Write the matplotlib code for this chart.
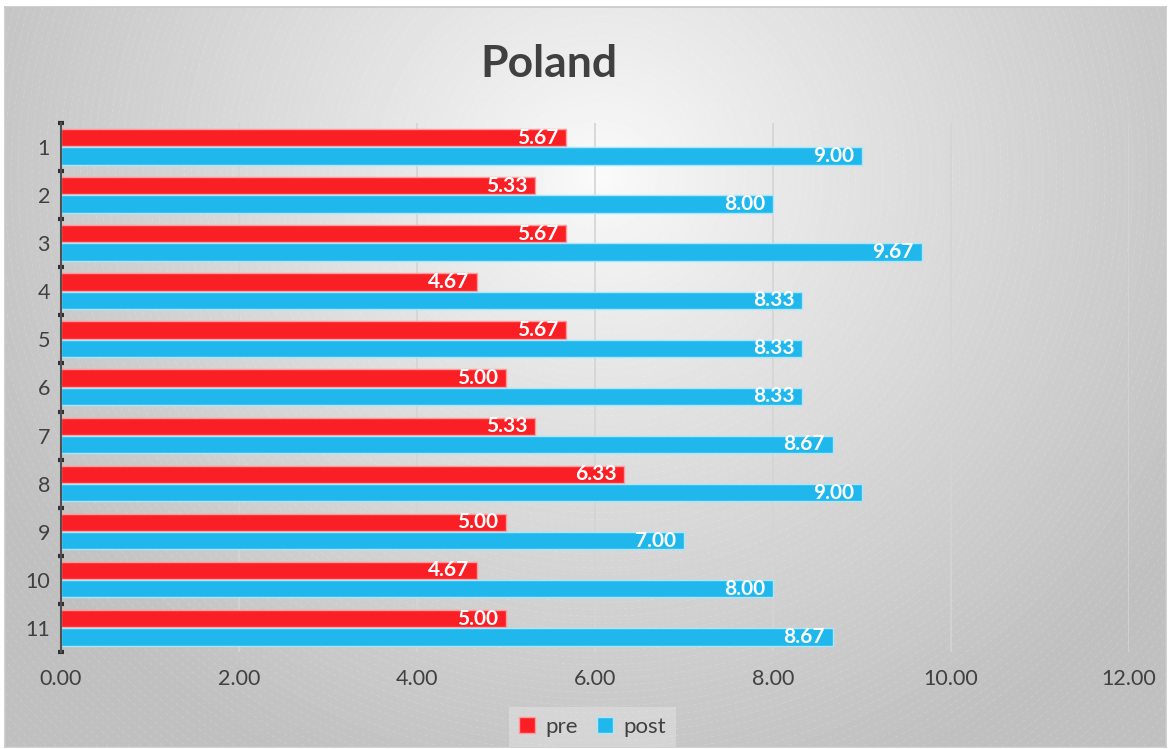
import numpy as np
import matplotlib.pyplot as plt

plt.rcParams["font.family"] = ["Lato", "DejaVu Sans"]

# pre/post scores per item
items = ["1", "2", "3", "4", "5", "6", "7", "8", "9", "10", "11"]
pre = [5.67, 5.33, 5.67, 4.67, 5.67, 5.00, 5.33, 6.33, 5.00, 4.67, 5.00]
post = [9.00, 8.00, 9.67, 8.33, 8.33, 8.33, 8.67, 9.00, 7.00, 8.00, 8.67]
xticks = [0, 2, 4, 6, 8, 10, 12]

red = "#FA1F24"
blue = "#20B8EC"
txt = "#404040"

W, H = 1171, 749
fig = plt.figure(figsize=(W / 100, H / 100), dpi=100)
fig.patch.set_facecolor("white")

# radial gradient backdrop with faint rings
bg = fig.add_axes([0.0045, 0.003, 0.991, 0.988])
bg.set_xlim(0, W)
bg.set_ylim(H, 0)
yy, xx = np.mgrid[0:H, 0:W]
cx, cy = 600, 170
r = np.hypot(xx - cx, (yy - cy) * 1.05)
t = np.clip(r / 700, 0, 1) ** 0.85
shade = 0.985 - (0.985 - 0.75) * t
bg.imshow(shade, cmap="gray", vmin=0, vmax=1, extent=(0, W, H, 0), aspect="auto")
for rad in np.arange(20, 1100, 7):
    circ = plt.Circle((cx, cy), rad, fill=False, color="white", lw=0.5,
                      alpha=0.18, ls=(0, (6, 4)))
    bg.add_patch(circ)
bg.set_xticks([])
bg.set_yticks([])
for s in bg.spines.values():
    s.set_color("#C8C8C8")
    s.set_linewidth(1.2)

ax = fig.add_axes([0.0521, 0.1295, 0.912, 0.7063])
ax.patch.set_alpha(0)

y = np.arange(len(items))
bh = 0.36
ax.barh(y - 0.195, pre, height=bh, color=red, edgecolor="#FF9A9A",
        linewidth=1.0, label="pre", zorder=3)
ax.barh(y + 0.185, post, height=bh, color=blue, edgecolor="#A8E6FA",
        linewidth=1.0, label="post", zorder=3)

for i in range(len(items)):
    ax.annotate(f"{pre[i]:.2f}", (pre[i], y[i] - 0.195), xytext=(-5.5, 0),
                textcoords="offset points", ha="right", va="center",
                color="white", fontsize=15, fontweight="bold", zorder=4)
    ax.annotate(f"{post[i]:.2f}", (post[i], y[i] + 0.185), xytext=(-5.5, 0),
                textcoords="offset points", ha="right", va="center",
                color="white", fontsize=15, fontweight="bold", zorder=4)

ax.set_xlim(0, 12)
ax.set_ylim(len(items) - 0.5, -0.5)
ax.set_xticks(xticks)
ax.set_xticklabels([f"{v:.2f}" for v in xticks], fontsize=15.5, color=txt)
ax.set_yticks(y)
ax.set_yticklabels(items, fontsize=15.5, color=txt)
ax.set_yticks(np.arange(-0.5, len(items)), minor=True)
ax.tick_params(axis="x", length=0, pad=12)
ax.tick_params(axis="y", which="major", length=0, pad=8)
ax.tick_params(axis="y", which="minor", length=5, width=3, color="#303030",
               direction="inout")
ax.grid(axis="x", color="#D4D4D4", lw=1.2, zorder=0)
for side in ["top", "right", "bottom"]:
    ax.spines[side].set_visible(False)
ax.spines["left"].set_color("#505050")
ax.spines["left"].set_linewidth(1.5)
ax.spines["left"].set_zorder(5)

fig.text(0.469, 0.914, "Poland", ha="center", va="center", fontsize=32,
         fontweight="bold", color=txt)

leg = fig.legend(loc="lower center", bbox_to_anchor=(0.506, -0.012), ncol=2,
                 fontsize=16, frameon=True, fancybox=False, handlelength=0.7,
                 handleheight=0.7, handletextpad=0.45, columnspacing=0.9,
                 borderpad=0.45)
leg.get_frame().set_facecolor("white")
leg.get_frame().set_alpha(0.25)
leg.get_frame().set_linewidth(0)
for t in leg.get_texts():
    t.set_color(txt)

fig.savefig("out.png", dpi=100)
